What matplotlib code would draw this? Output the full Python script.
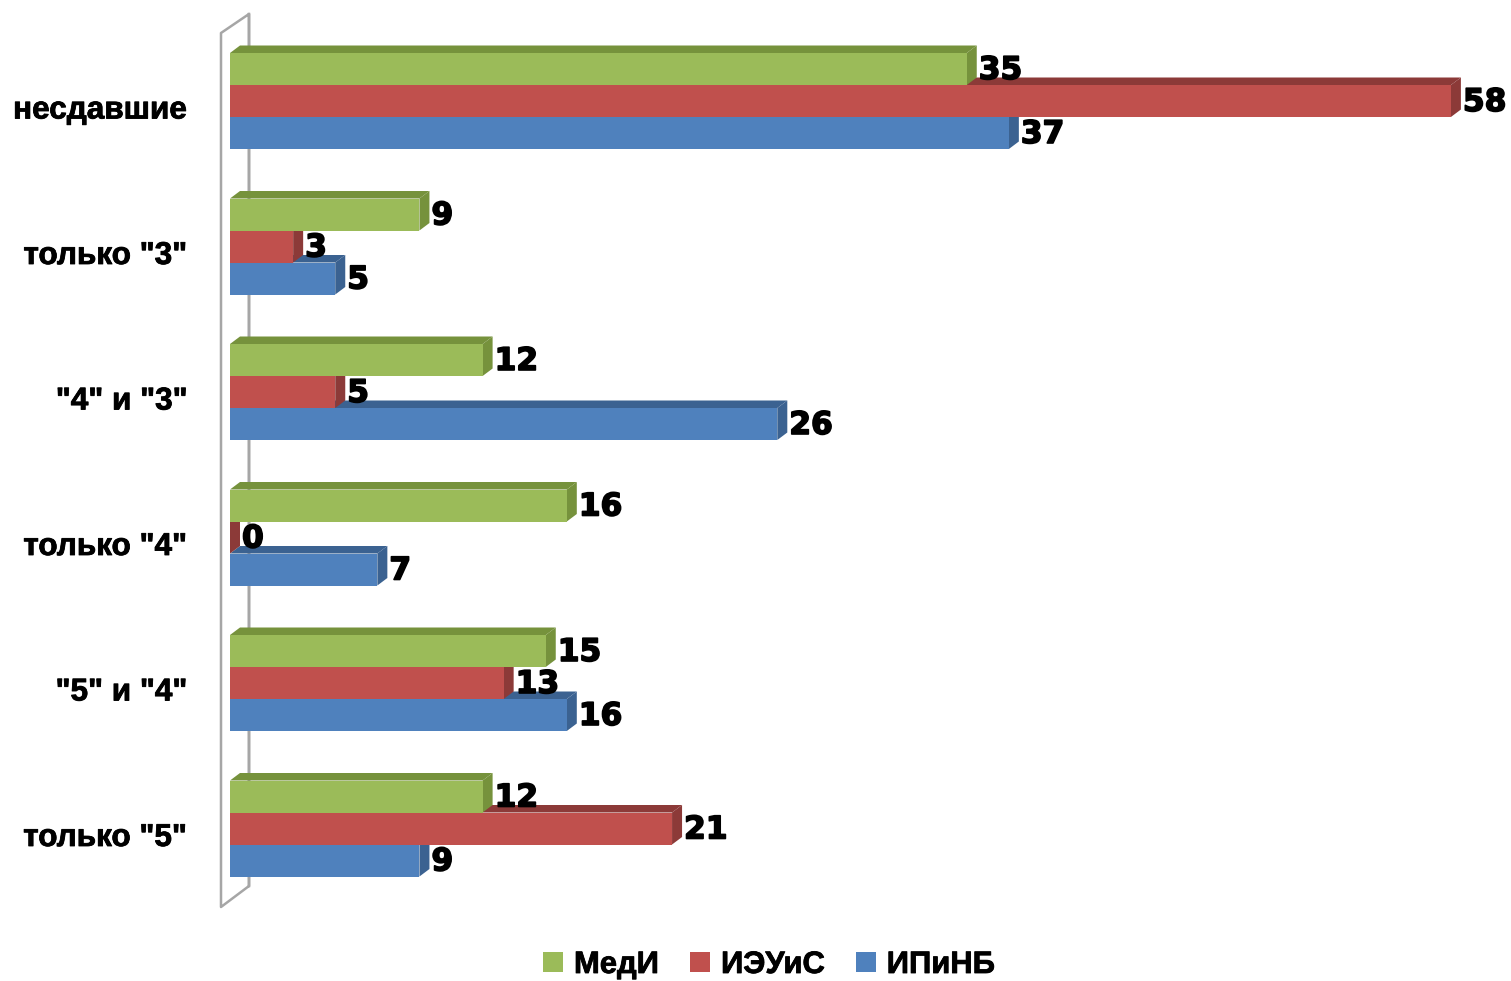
"""
Horizontal grouped bars with a fake 3D look (side and top faces drawn by hand).
"""

import matplotlib
matplotlib.use('Agg')
import matplotlib.pyplot as plt
import matplotlib.patheffects as pe
import matplotlib.transforms as mtrans
import numpy as np


categories = ['несдавшие', 'только "3"', '"4" и "3"', 'только "4"', '"5" и "4"', 'только "5"']
medi = [35, 9, 12, 16, 15, 12]
ieuis = [58, 3, 5, 0, 13, 21]
ipinb = [37, 5, 26, 7, 16, 9]

PX_PER_UNIT = 21.05
PX_PER_GROUP = 145.5
WIDTH, HEIGHT = 1511, 981
LEFT = 230
FIRST_GROUP = 101

# size of the 3D offset, in data units
DX = 10 / PX_PER_UNIT
DY = 7.5 / PX_PER_GROUP
BAR_H = 32 / PX_PER_GROUP


def px_x(px):
    return (px - LEFT) / PX_PER_UNIT


def px_y(px):
    return (px - FIRST_GROUP) / PX_PER_GROUP


def bar_3d(ax, y, values, front, dark, label, zorder):
    """
    Draw one series: top and side faces first, the front with barh on top of them
    """
    for yi, v in zip(y, values):
        top, bottom = yi - BAR_H / 2, yi + BAR_H / 2
        ax.fill([0, DX, v + DX, v], [top, top - DY, top - DY, top],
                color=dark, lw=0, zorder=zorder, clip_on=False)
        ax.fill([v, v + DX, v + DX, v], [top, top - DY, bottom - DY, bottom],
                color=dark, lw=0, zorder=zorder, clip_on=False)
    ax.barh(y, values, height=BAR_H, color=front, label=label, zorder=zorder + 0.5)


def plot_chart(file_name):
    fig = plt.figure(figsize=(WIDTH / 100, HEIGHT / 100), dpi=100)
    ax = fig.add_axes([LEFT / WIDTH, 0, 1 - LEFT / WIDTH, 1])
    ax.set_xlim(0, (WIDTH - LEFT) / PX_PER_UNIT)
    ax.set_ylim(px_y(HEIGHT), px_y(0))

    y = np.arange(len(categories))

    # back wall
    ax.plot([px_x(249), px_x(249), px_x(221), px_x(221), px_x(249), px_x(249)],
            [px_y(886), px_y(14), px_y(33), px_y(907), px_y(886), px_y(14)],
            color='#a6a6a6', lw=1.8, clip_on=False, zorder=1)

    # blue goes first, the bars nearer the top of a group cover its top face
    bar_3d(ax, y + BAR_H, ipinb, '#4f81bd', '#3b6291', 'ИПиНБ', 2)
    bar_3d(ax, y, ieuis, '#c0504d', '#8c3a38', 'ИЭУиС', 3)
    bar_3d(ax, y - BAR_H, medi, '#9bbb59', '#76923c', 'МедИ', 4)

    # the original text is heavier than any installed bold, a thin stroke gets close
    heavy = [pe.withStroke(linewidth=1.2, foreground='black')]
    for offset, values in [(-BAR_H, medi), (0, ieuis), (BAR_H, ipinb)]:
        for yi, v in zip(y + offset, values):
            ax.text(v + DX + 2 / PX_PER_UNIT, yi + 1.5 / PX_PER_GROUP, str(v),
                    ha='left', va='center', fontsize=22.5, fontweight='bold',
                    family='DejaVu Sans', zorder=10, path_effects=heavy)

    ax.set_yticks(y)
    ax.set_yticklabels(categories, fontsize=22.7, fontweight='bold', family='Liberation Sans')
    ax.tick_params(axis='y', length=0, pad=31)
    shift = mtrans.ScaledTranslation(0, -6 / 100, fig.dpi_scale_trans)
    for tick_label in ax.get_yticklabels():
        tick_label.set_transform(tick_label.get_transform() + shift)
        tick_label.set_path_effects([pe.withStroke(linewidth=0.6, foreground='black')])
    ax.set_xticks([])
    ax.patch.set_alpha(0)
    for spine in ax.spines.values():
        spine.set_visible(False)

    handles, labels = ax.get_legend_handles_labels()
    legend = ax.legend(handles[::-1], labels[::-1], ncol=3, loc='center',
                       bbox_to_anchor=(769 / WIDTH, 1 - 965 / HEIGHT),
                       bbox_transform=fig.transFigure, frameon=False,
                       prop={'family': 'Liberation Sans', 'weight': 'bold', 'size': 22.3},
                       handlelength=0.65, handleheight=0.65, handletextpad=0.35, columnspacing=1.0)
    for text in legend.get_texts():
        text.set_path_effects([pe.withStroke(linewidth=0.6, foreground='black')])

    fig.savefig(file_name, dpi=100)


if __name__ == "__main__":
    plot_chart('out.png')
